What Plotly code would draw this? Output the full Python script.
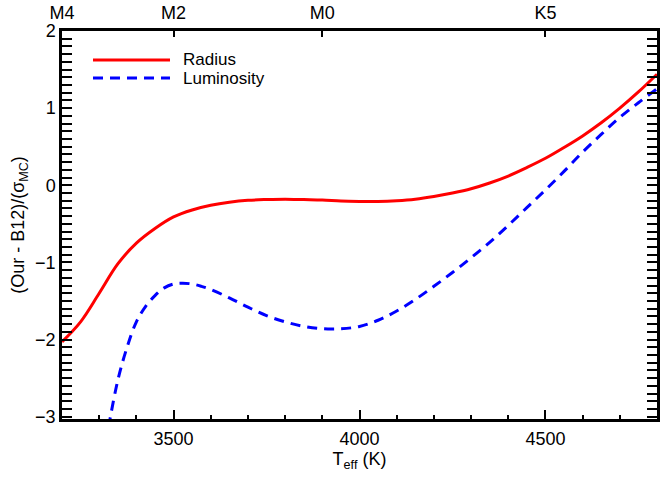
import plotly.graph_objects as go

# Radius curve (Teff in K, deviation in sigma)
radius_teff = [3200, 3250, 3300, 3350, 3400, 3450, 3500, 3550, 3600, 3650, 3700, 3750, 3800,
               3850, 3900, 3950, 4000, 4050, 4100, 4150, 4200, 4250, 4300, 4350, 4400, 4450,
               4500, 4550, 4600, 4650, 4700, 4750, 4800]
radius_dev = [-2.03, -1.77, -1.40, -1.02, -0.75, -0.56, -0.41, -0.32, -0.26, -0.22, -0.195,
              -0.185, -0.18, -0.185, -0.19, -0.205, -0.21, -0.21, -0.20, -0.18, -0.145, -0.10,
              -0.045, 0.03, 0.12, 0.23, 0.35, 0.49, 0.64, 0.81, 1.00, 1.21, 1.44]

# Luminosity curve
lum_teff = [3325, 3350, 3375, 3400, 3425, 3450, 3475, 3500, 3525, 3550, 3575, 3600, 3650, 3700,
            3750, 3800, 3850, 3900, 3950, 4000, 4050, 4100, 4150, 4200, 4250, 4300, 4350,
            4400, 4450, 4500, 4550, 4600, 4650, 4700, 4750, 4800]
lum_dev = [-3.14, -2.53, -2.10, -1.77, -1.57, -1.43, -1.33, -1.28, -1.27, -1.28, -1.31, -1.35,
           -1.46, -1.58, -1.69, -1.77, -1.83, -1.86, -1.86, -1.83, -1.75, -1.63, -1.48, -1.31,
           -1.13, -0.94, -0.74, -0.52, -0.29, -0.06, 0.18, 0.43, 0.66, 0.88, 1.07, 1.25]

# Spectral type ticks on top axis
spt_teff = [3200, 3500, 3900, 4500]
spt_labels = ["M4", "M2", "M0", "K5"]

FONT = "Liberation Sans, Arial, Helvetica, sans-serif"

fig = go.Figure()
fig.add_trace(go.Scatter(x=radius_teff, y=radius_dev, mode="lines", name="Radius",
                         line=dict(color="#ff0000", width=3, shape="spline", smoothing=1.0),
                         showlegend=False))
fig.add_trace(go.Scatter(x=lum_teff, y=lum_dev, mode="lines", name="Luminosity",
                         line=dict(color="#0000ff", width=3, dash="10px,7px", shape="spline",
                                   smoothing=1.0),
                         showlegend=False))
# invisible trace to activate the top axis
fig.add_trace(go.Scatter(x=[spt_teff[0], spt_teff[-1]], y=[0, 0], xaxis="x2", mode="markers",
                         marker=dict(size=1, opacity=0), showlegend=False, hoverinfo="skip"))

axis_common = dict(showgrid=False, zeroline=False, showline=True, linecolor="black",
                   linewidth=2.5, automargin=False,
                   tickfont=dict(family=FONT, size=18, color="black"))

fig.update_layout(
    width=660, height=478,
    margin=dict(l=62, r=3, t=31, b=59, autoexpand=False),
    paper_bgcolor="white", plot_bgcolor="white",
    font=dict(family=FONT, size=18, color="black"),
    xaxis=dict(range=[3200, 4800], tickmode="array", tickvals=[3500, 4000, 4500],
               ticks="inside", ticklen=9, tickwidth=2, tickcolor="black",
               mirror=False, ticklabelstandoff=2,
               minor=dict(tickmode="linear", dtick=100, tick0=3200, ticks="inside", ticklen=4,
                          tickwidth=1.5, tickcolor="black"),
               title=dict(text="T<sub>eff</sub> (K)", standoff=2,
                          font=dict(family=FONT, size=18)),
               **axis_common),
    xaxis2=dict(range=[3200, 4800], overlaying="x", side="top", anchor="y", tickmode="array",
                tickvals=spt_teff, ticktext=spt_labels, ticks="inside", ticklen=6,
                tickwidth=2, tickcolor="black", ticklabelstandoff=2, **axis_common),
    yaxis=dict(range=[-3.03, 2.0], tickmode="array", tickvals=[-3, -2, -1, 0, 1, 2],
               ticks="inside", ticklen=10, tickwidth=2, tickcolor="black", mirror="allticks",
               minor=dict(tickmode="linear", dtick=0.1, tick0=0, ticks="inside", ticklen=6,
                          tickwidth=2, tickcolor="black"),
               title=dict(text="(Our - B12)/(σ<sub>MC</sub>)", standoff=6,
                          font=dict(family=FONT, size=18)),
               **axis_common),
)

# Legend (drawn manually to match the long line samples)
legend_items = [("Radius", "#ff0000", "solid"), ("Luminosity", "#0000ff", "10px,7px")]
for i, (label, color, dash) in enumerate(legend_items):
    ypx = 60 + i * 18
    yp = 1 - (ypx - 31) / 388.0
    fig.add_shape(type="line", xref="paper", yref="paper",
                  x0=(93 - 62) / 595.0, x1=(170 - 62) / 595.0, y0=yp, y1=yp,
                  line=dict(color=color, width=3, dash=dash))
    fig.add_annotation(xref="paper", yref="paper", x=(181 - 62) / 595.0, y=yp,
                       text=label, showarrow=False, xanchor="left", yanchor="middle",
                       font=dict(family=FONT, size=17, color="black"))

fig.write_html("out.html", config={"displayModeBar": False},
               post_script="document.body.style.margin='0';"
                           "document.body.style.overflow='hidden';")
